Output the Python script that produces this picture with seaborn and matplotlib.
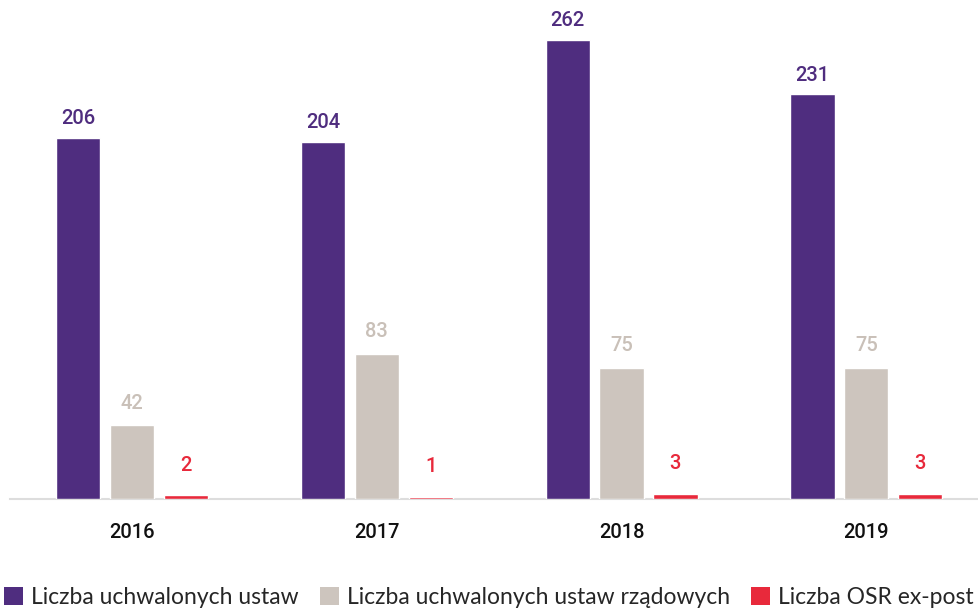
import matplotlib
matplotlib.use("Agg")
import matplotlib.pyplot as plt
import seaborn as sns
import pandas as pd
from matplotlib.patches import Patch

years = ["2016", "2017", "2018", "2019"]
series_names = ["Liczba uchwalonych ustaw", "Liczba uchwalonych ustaw rządowych", "Liczba OSR ex-post"]
ustawy = [206, 204, 262, 231]
rzadowe = [42, 83, 75, 75]
osr = [2, 1, 3, 3]

colors = ["#4f2d7f", "#cdc5be", "#e8293b"]
label_colors = ["#4f2d7f", "#c9c0b8", "#e8293b"]

df = pd.DataFrame({
    "year": years * 3,
    "series": [series_names[0]] * 4 + [series_names[1]] * 4 + [series_names[2]] * 4,
    "value": ustawy + rzadowe + osr,
})

sns.set_theme(style="white")
plt.rcParams["font.family"] = ["Lato", "DejaVu Sans"]

fig = plt.figure(figsize=(9.79, 6.08), dpi=100)
ax = fig.add_axes([10 / 979, 109 / 608, 1 - 10 / 979, 499 / 608])

sns.barplot(data=df, x="year", y="value", hue="series", order=years,
            hue_order=series_names, palette=colors, width=0.66, gap=0.18,
            saturation=1, ax=ax, legend=False, zorder=3)

pads = [7, 9, 15]
for i, cont in enumerate(ax.containers):
    ax.bar_label(cont, labels=[str(v) for v in [ustawy, rzadowe, osr][i]],
                 padding=pads[i], color=label_colors[i], fontsize=14.5,
                 fontweight="medium", family=["Roboto", "DejaVu Sans"])

ax.set_xlim(-0.498, 3.46)
ax.set_ylim(0, 284.8)
ax.set_xlabel("")
ax.set_ylabel("")
ax.set_yticks([])
for s in ["left", "right", "top"]:
    ax.spines[s].set_visible(False)
ax.spines["bottom"].set_color("#dddddd")
ax.spines["bottom"].set_linewidth(1.5)
ax.spines["bottom"].set_zorder(1)
ax.tick_params(axis="x", length=0, pad=17, labelsize=14.5, labelcolor="#111111")
for t in ax.get_xticklabels():
    t.set_fontweight("medium")
    t.set_family(["Roboto", "DejaVu Sans"])

handles = [Patch(facecolor=c, edgecolor="none") for c in colors]
fig.legend(handles, series_names, loc="lower left", bbox_to_anchor=(0.004, 0.0),
           ncol=3, frameon=False, fontsize=16.5, handlelength=0.85, handleheight=0.85,
           handletextpad=0.35, columnspacing=0.9, borderaxespad=0.0, borderpad=0.0)

fig.savefig("out.png", dpi=100)
